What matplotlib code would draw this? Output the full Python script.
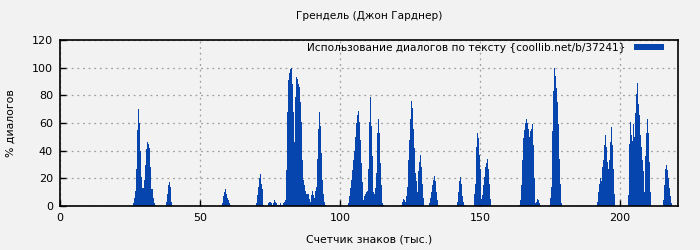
import numpy as np
import matplotlib
matplotlib.use("Agg")
import matplotlib.pyplot as plt

# dialogue share (%) sampled every ~0.357k chars, grouped by where each run starts
step = 0.357

starts = [26.1, 37.9, 57.9, 70.0, 102.9, 121.8, 131.8, 141.8, 147.9,
          163.9, 174.6, 191.8, 202.9, 215.4]

runs = [
    [2, 6, 11, 27, 55, 70, 60, 40, 21, 13, 13, 19, 30, 41, 46, 45, 42, 28, 12, 12, 6, 2, 1],
    [3, 9, 15, 17, 14, 3],
    [2, 7, 10, 12, 9, 6, 4, 2, 1],
    [2, 8, 14, 20, 23, 16, 12, 1, 0, 0, 0, 0, 2, 3, 3, 2, 1, 2, 4, 3,
     2, 1, 0.5, 1, 2, 1, 1, 2, 3, 4, 26, 68, 91, 96, 99, 100, 88, 68, 46, 79,
     93, 92, 88, 86, 75, 61, 33, 19, 15, 11, 9, 9, 9, 5, 3, 8, 11, 8, 6, 11,
     14, 34, 56, 68, 58, 38, 19, 9, 3, 1],
    [2, 7, 13, 19, 26, 33, 40, 50, 60, 66, 69, 61, 48, 31, 17, 4, 7, 9, 10, 11,
     27, 61, 79, 58, 36, 10, 9, 13, 24, 53, 63, 53, 31, 15, 2, 1],
    [1, 3, 5, 4, 3, 7, 14, 33, 48, 63, 76, 71, 56, 42, 24, 18, 10, 25, 32, 37,
     28, 16, 6],
    [2, 6, 10, 15, 19, 22, 18, 10, 4, 1],
    [3, 10, 18, 21, 16, 7, 3, 1],
    [9, 16, 43, 53, 49, 37, 27, 5, 8, 15, 21, 28, 31, 34, 27, 16, 5],
    [1, 4, 15, 33, 49, 55, 60, 63, 60, 56, 50, 54, 56, 59, 44, 20, 2, 3, 5, 4,
     2, 1],
    [1, 6, 14, 54, 83, 100, 94, 85, 75, 59, 34, 16, 2],
    [3, 10, 16, 20, 18, 28, 33, 44, 51, 43, 32, 27, 33, 46, 57, 44, 27, 9],
    [8, 45, 61, 51, 47, 59, 50, 67, 81, 89, 74, 66, 51, 43, 33, 25, 10, 36, 53, 63,
     53, 32, 10],
    [4, 15, 27, 30, 26, 20, 13, 7, 2],
]

title = "Грендель (Джон Гарднер)"
legend_label = "Использование диалогов по тексту {coollib.net/b/37241}"
bar_color = "#0645ad"

xs, ys = [], []
for s, vals in zip(starts, runs):
    xs.extend(s + step * np.arange(len(vals)))
    ys.extend(vals)

fig = plt.figure(figsize=(7, 2.5), dpi=100, facecolor="#f2f2f2")
ax = fig.add_axes([0.0857, 0.176, 0.8829, 0.664])
ax.set_facecolor("#f2f2f2")

ax.bar(xs, ys, width=step, align="edge", color=bar_color, linewidth=0,
       label=legend_label)

ax.set_xlim(0, 220.7)
ax.set_ylim(0, 120)
ax.set_xticks([0, 50, 100, 150, 200])
ax.set_yticks([0, 20, 40, 60, 80, 100, 120])
ax.tick_params(direction="in", labelsize=8, length=4, width=1, pad=5)
ax.grid(True, color="#a0a0a0", linestyle=(0, (1.5, 3)), linewidth=0.9)
ax.set_axisbelow(True)
for sp in ax.spines.values():
    sp.set_linewidth(1.2)

ax.set_title(title, fontsize=7.6, pad=15)
ax.set_xlabel("Счетчик знаков (тыс.)", fontsize=7.8, labelpad=8)
ax.set_ylabel("% диалогов", fontsize=7.8, labelpad=12)

ax.legend(loc="upper right", bbox_to_anchor=(0.982, 1.0), frameon=False,
          markerfirst=False, fontsize=7.6, handlelength=2.9, handleheight=0.55,
          borderaxespad=0.0, borderpad=0.25, handletextpad=0.8)

fig.savefig("out.png", dpi=100, facecolor=fig.get_facecolor())
